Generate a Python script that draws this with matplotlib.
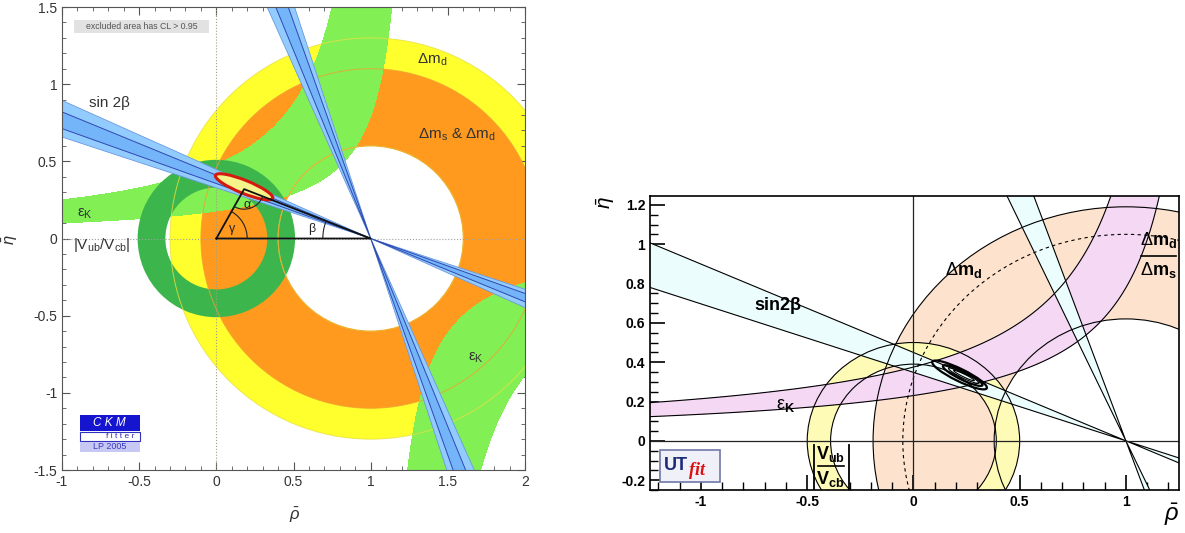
import numpy as np
import matplotlib
matplotlib.use("Agg")
import matplotlib.pyplot as plt
from matplotlib.patches import Wedge, Circle, Ellipse, Rectangle, Arc

plt.rcParams['font.family'] = ['Liberation Sans', 'DejaVu Sans']
plt.rcParams['mathtext.fontset'] = 'custom'
plt.rcParams['mathtext.rm'] = 'Liberation Sans'
plt.rcParams['mathtext.it'] = 'Liberation Sans:italic'
plt.rcParams['mathtext.bf'] = 'Liberation Sans:bold'

# ---------------- left panel: CKMfitter (LP 2005) ----------------
ckm_xticks = [-1, -0.5, 0, 0.5, 1, 1.5, 2]
ckm_xlabels = ['-1', '-0.5', '0', '0.5', '1', '1.5', '2']
ckm_yticks = [-1.5, -1, -0.5, 0, 0.5, 1, 1.5]
ckm_ylabels = ['-1.5', '-1', '-0.5', '0', '0.5', '1', '1.5']
# annuli: centre, inner radius, outer radius
ckm_dmd = [(1, 0), 0.6, 1.3]
ckm_dms = [(1, 0), 0.6, 1.1]
ckm_vub = [(0, 0), 0.33, 0.51]
# sin2beta: beta range of the bands (deg), apex at (1, 0)
ckm_beta_outer = [18.2, 24.1]
ckm_beta_inner = [19.6, 22.3]
# eps_K hyperbola edges  eta*(a - rho) = b : (a, b) inner edge, outer edge
ckm_epsk_up = [(1.29, 0.23), (1.10, 0.525)]
ckm_epsk_dn = [(1.06, 0.27), (1.30, 0.62)]
# global fit region: rho, eta, length, width, angle
ckm_fit = [0.18, 0.335, 0.40, 0.085, -22]
ckm_apex = [0.18, 0.32]

# ---------------- right panel: UTfit ----------------
utf_xticks = [-1, -0.5, 0, 0.5, 1]
utf_xlabels = ['-1', '-0.5', '0', '0.5', '1']
utf_yticks = [-0.2, 0, 0.2, 0.4, 0.6, 0.8, 1, 1.2]
utf_ylabels = ['-0.2', '0', '0.2', '0.4', '0.6', '0.8', '1', '1.2']
utf_dmd = [(1, 0), 0.62, 1.19]
utf_dms_ratio = [(1, 0), 1.05]
utf_vub = [(0, 0), 0.39, 0.50]
utf_beta = [19.2, 24.2]
utf_epsk = [(1.42, 0.327), (1.33, 0.499)]
# fit contours: rho, eta, length, width, angle, linewidth
utf_fit = [
    [0.217, 0.335, 0.29, 0.062, -28, 1.6],
    [0.232, 0.332, 0.21, 0.042, -28, 1.6],
    [0.236, 0.332, 0.16, 0.026, -28, 0.8],
    [0.238, 0.332, 0.11, 0.014, -28, 0.8],
]

YEL, ORA, LGR, DGR = '#ffff2e', '#ff9a1e', '#82ef55', '#3cb64c'
BLU1, BLU2, BLUE = '#92ccff', '#74b4f8', '#3048b0'


def hyper_band(rr, ee, inner, outer):
    (a1, b1), (a2, b2) = inner, outer
    return np.minimum(ee * (a1 - rr) - b1, b2 - ee * (a2 - rr))


def beta_wedges(apex, beta, r=4.0):
    b1, b2 = beta
    return [(apex, r, 180 - b2, 180 - b1), (apex, r, 360 - b2, 360 - b1),
            (apex, r, 90 + b1, 90 + b2), (apex, r, 270 + b1, 270 + b2)]


fig = plt.figure(figsize=(11.85, 5.33), dpi=100)

# ====================== left ======================
ax = fig.add_axes([62 / 1185, 1 - 470 / 533, 463 / 1185, 463 / 533])
ax.set_xlim(-1, 2)
ax.set_ylim(-1.5, 1.5)

for (c, r_in, r_out), col, z in [(ckm_dmd, YEL, 1), (ckm_dms, ORA, 2)]:
    ax.add_patch(Wedge(c, r_out, 0, 360, width=r_out - r_in, facecolor=col,
                       edgecolor='none', zorder=z))

rr, ee = np.meshgrid(np.linspace(-1.1, 2.1, 1000), np.linspace(-1.6, 1.6, 1000))
h = np.maximum(np.where(ee > 0, hyper_band(rr, ee, *ckm_epsk_up), -1),
               np.where(ee < 0, hyper_band(rr, ee, *ckm_epsk_dn), -1))
ax.contourf(rr, ee, h, levels=[0, 100], colors=[LGR], zorder=3)

c, r_in, r_out = ckm_vub
ax.add_patch(Wedge(c, r_out, 0, 360, width=r_out - r_in, facecolor=DGR,
                   edgecolor='none', zorder=4))

# faint contour lines of the Delta m rings
for (c, r_in, r_out), col in [(ckm_dmd, '#e8e040'), (ckm_dms, '#f0a030')]:
    for r in (r_in, r_out):
        ax.add_patch(Circle(c, r, fill=False, edgecolor=col, lw=0.7,
                            alpha=0.8, zorder=4.2))

ax.axvline(0, color='#a0a080', lw=0.8, ls=':', zorder=4.3)
ax.axhline(0, color='#a0a0a0', lw=0.8, ls=':', zorder=4.3)

for w in beta_wedges((1, 0), ckm_beta_outer):
    ax.add_patch(Wedge(*w, facecolor=BLU1, edgecolor='#6a98e0', lw=0.6, zorder=5))
for w in beta_wedges((1, 0), ckm_beta_inner):
    ax.add_patch(Wedge(*w, facecolor=BLU2, edgecolor=BLUE, lw=0.7, zorder=5.1))

fr, fe, fl, fw, fa = ckm_fit
ax.add_patch(Ellipse((fr, fe), fl, fw, angle=fa, facecolor='#f4f48a',
                     edgecolor='#d41a10', lw=2.2, zorder=6))

# unitarity triangle
ar, ae = ckm_apex
ax.plot([0, 1, ar, 0], [0, 0, ae, 0], color='#111111', lw=1.3, zorder=7)
g = np.degrees(np.arctan2(ae, ar))
b = np.degrees(np.arctan2(ae, 1 - ar))
ax.add_patch(Arc((0, 0), 0.4, 0.4, theta1=0, theta2=g, color='#222', lw=0.8, zorder=7))
ax.add_patch(Arc((ar, ae), 0.26, 0.26, theta1=180 + g, theta2=360 - b,
                 color='#222', lw=0.8, zorder=7))
ax.add_patch(Arc((1, 0), 0.62, 0.62, theta1=180 - b, theta2=180, color='#222',
                 lw=0.8, zorder=7))
ax.text(0.10, 0.06, 'γ', fontsize=9, color='#222', ha='center', va='center', zorder=8)
ax.text(0.20, 0.22, 'α', fontsize=9, color='#222', ha='center', va='center', zorder=8)
ax.text(0.62, 0.06, 'β', fontsize=9, color='#222', ha='center', va='center', zorder=8)

tc = '#333333'
ax.text(-0.69, 0.88, 'sin 2β', fontsize=11, color=tc, ha='center', va='center', zorder=8)
ax.text(-0.85, 0.16, r'ε$_\mathrm{K}$', fontsize=11, color=tc, ha='center', va='center', zorder=8)
ax.text(1.68, -0.77, r'ε$_\mathrm{K}$', fontsize=11, color=tc, ha='center', va='center', zorder=8)
ax.text(1.40, 1.16, r'Δm$_\mathrm{d}$', fontsize=11, color=tc, ha='center', va='center', zorder=8)
ax.text(1.56, 0.67, r'Δm$_\mathrm{s}$ & Δm$_\mathrm{d}$', fontsize=11, color=tc,
        ha='center', va='center', zorder=8)
ax.text(-0.74, -0.04, r'|V$_\mathrm{ub}$/V$_\mathrm{cb}$|', fontsize=11, color=tc,
        ha='center', va='center', zorder=8)

# "excluded area" box
ax.add_patch(Rectangle((0.026, 0.944), 0.292, 0.027, transform=ax.transAxes,
                       facecolor='#e2e2e2', edgecolor='none', zorder=8))
ax.text(0.172, 0.9575, 'excluded area has CL > 0.95', transform=ax.transAxes,
        fontsize=6.3, color='#555', ha='center', va='center', zorder=9)

# CKMfitter logo
ax.add_patch(Rectangle((0.039, 0.084), 0.129, 0.034, transform=ax.transAxes,
                       facecolor='#1515d0', edgecolor='none', zorder=8))
ax.text(0.103, 0.101, 'C K M', transform=ax.transAxes, fontsize=8.5, color='white',
        style='italic', ha='center', va='center', zorder=9)
ax.add_patch(Rectangle((0.039, 0.063), 0.129, 0.019, transform=ax.transAxes,
                       facecolor='white', edgecolor='#3030c0', lw=0.8, zorder=8))
ax.text(0.125, 0.0725, 'f i t t e r', transform=ax.transAxes, fontsize=6, color='#3030c0',
        ha='center', va='center', zorder=9)
ax.add_patch(Rectangle((0.039, 0.039), 0.129, 0.022, transform=ax.transAxes,
                       facecolor='#c8c8f4', edgecolor='none', zorder=8))
ax.text(0.103, 0.050, 'LP 2005', transform=ax.transAxes, fontsize=6.5, color='#3838c8',
        ha='center', va='center', zorder=9)

ax.set_xticks(ckm_xticks)
ax.set_xticklabels(ckm_xlabels)
ax.set_yticks(ckm_yticks)
ax.set_yticklabels(ckm_ylabels)
ax.set_xticks(np.arange(-1, 2.01, 0.1), minor=True)
ax.set_yticks(np.arange(-1.5, 1.51, 0.1), minor=True)
ax.tick_params(which='both', direction='in', top=True, right=True, color='#555',
               labelcolor='#333', labelsize=10)
ax.tick_params(which='major', length=6, width=0.8)
ax.tick_params(which='minor', length=3, width=0.6)
for s in ax.spines.values():
    s.set_color('#555')
    s.set_linewidth(0.8)
    s.set_zorder(10)
fig.text(295 / 1185, 1 - 515 / 533, r'$\bar{\rho}$', fontsize=12, color='#333',
         ha='center', va='center')
fig.text(10 / 1185, 1 - 240 / 533, r'$\bar{\eta}$', fontsize=12, color='#333',
         ha='center', va='center', rotation=90)

# ====================== right ======================
PEACH, LYEL, PINK, CYAN = '#fde3cd', '#fdfbb6', '#f4d8f4', '#ebfdfd'
ax2 = fig.add_axes([650 / 1185, 1 - 490 / 533, 529 / 1185, 294 / 533])
ax2.set_xlim(-1.24, 1.25)
ax2.set_ylim(-0.25, 1.245)

c, r_in, r_out = utf_dmd
ax2.add_patch(Wedge(c, r_out, 0, 360, width=r_out - r_in, facecolor=PEACH,
                    edgecolor='none', zorder=1))
c2, v_in, v_out = utf_vub
ax2.add_patch(Wedge(c2, v_out, 0, 360, width=v_out - v_in, facecolor=LYEL,
                    edgecolor='none', zorder=2))

rr2, ee2 = np.meshgrid(np.linspace(-1.4, 1.4, 1000), np.linspace(-0.4, 1.4, 800))
h2 = np.where(ee2 > 0, hyper_band(rr2, ee2, *utf_epsk), -1)
ax2.contourf(rr2, ee2, h2, levels=[0, 100], colors=[PINK], zorder=3)
ax2.contour(rr2, ee2, h2, levels=[0], colors='black', linewidths=0.8, zorder=5)

for w in beta_wedges((1, 0), utf_beta):
    ax2.add_patch(Wedge(*w, facecolor=CYAN, edgecolor='none', zorder=4))
    ax2.add_patch(Wedge(*w, fill=False, edgecolor='black', lw=0.8, zorder=5))

for cc, r in [(c, r_in), (c, r_out), (c2, v_in), (c2, v_out)]:
    ax2.add_patch(Circle(cc, r, fill=False, edgecolor='black', lw=0.8, zorder=5))
ax2.add_patch(Circle(utf_dms_ratio[0], utf_dms_ratio[1], fill=False, edgecolor='black',
                     lw=0.8, ls=(0, (3, 3)), zorder=5))

ax2.axhline(0, color='#222', lw=0.9, zorder=5)
ax2.axvline(0, color='#222', lw=0.9, zorder=5)

for fr, fe, fl, fw, fa, lw in utf_fit:
    ax2.add_patch(Ellipse((fr, fe), fl, fw, angle=fa, fill=False, edgecolor='black',
                          lw=lw, zorder=6))

ax2.text(-0.64, 0.69, 'sin2β', fontsize=13, fontweight='bold', ha='center',
         va='center', zorder=8)
ax2.text(0.235, 0.87, r'Δ$\mathbf{m_d}$', fontsize=13, ha='center', va='center', zorder=8)
ax2.text(-0.60, 0.18, r'ε$_\mathbf{K}$', fontsize=13, ha='center', va='center', zorder=8)
ax2.text(1.155, 1.02, r'Δ$\mathbf{m_d}$', fontsize=13, ha='center', va='center', zorder=8)
ax2.plot([1.07, 1.235], [0.94, 0.94], color='black', lw=1.2, zorder=8)
ax2.text(1.155, 0.87, r'Δ$\mathbf{m_s}$', fontsize=13, ha='center', va='center', zorder=8)

ax2.plot([-0.47, -0.47], [-0.02, -0.26], color='black', lw=1.3, zorder=8)
ax2.plot([-0.305, -0.305], [-0.02, -0.26], color='black', lw=1.3, zorder=8)
ax2.text(-0.39, -0.068, r'$\mathbf{V_{ub}}$', fontsize=13, ha='center', va='center', zorder=8)
ax2.plot([-0.45, -0.325], [-0.13, -0.13], color='black', lw=1.2, zorder=8)
ax2.text(-0.39, -0.195, r'$\mathbf{V_{cb}}$', fontsize=13, ha='center', va='center', zorder=8)

# UTfit logo
ax2.add_patch(Rectangle((0.019, 0.027), 0.113, 0.109, transform=ax2.transAxes,
                        facecolor='#f0f0f8', edgecolor='#7078a8', lw=1.2, zorder=8))
ax2.text(0.026, 0.083, 'UT', transform=ax2.transAxes, fontsize=13, fontweight='bold',
         color='#1c2a78', ha='left', va='center', zorder=9)
ax2.text(0.073, 0.068, 'fit', transform=ax2.transAxes, fontsize=13, fontweight='bold',
         style='italic', family=['Liberation Serif', 'DejaVu Serif'], color='#dd1010',
         ha='left', va='center', zorder=9)

ax2.set_xticks(utf_xticks)
ax2.set_xticklabels(utf_xlabels)
ax2.set_yticks(utf_yticks)
ax2.set_yticklabels(utf_ylabels)
ax2.set_xticks(np.arange(-1.2, 1.21, 0.1), minor=True)
ax2.set_yticks(np.arange(-0.25, 1.241, 0.05), minor=True)
ax2.tick_params(which='both', direction='in', top=False, right=False, labelsize=10)
ax2.tick_params(which='major', length=11, width=1.2)
ax2.tick_params(which='minor', length=5.5, width=1.0)
for lab in ax2.get_xticklabels() + ax2.get_yticklabels():
    lab.set_fontweight('bold')
for s in ax2.spines.values():
    s.set_linewidth(1.2)
    s.set_zorder(10)
fig.text(1172 / 1185, 1 - 515 / 533, r'$\bar{\rho}$', fontsize=17, ha='center', va='center')
fig.text(606 / 1185, 1 - 203 / 533, r'$\bar{\eta}$', fontsize=15, ha='center', va='center',
         rotation=90)

fig.savefig('out.png', dpi=100)
